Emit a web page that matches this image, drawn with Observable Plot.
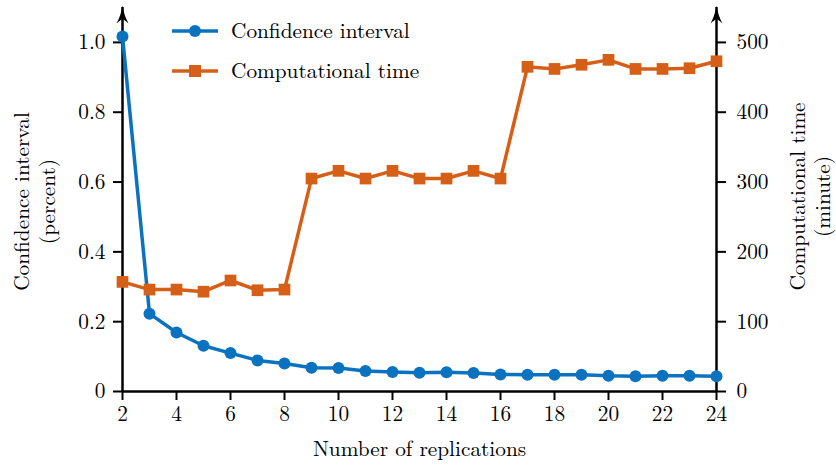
<!DOCTYPE html>
<html>
<head>
<meta charset="utf-8">
<script src="https://cdn.jsdelivr.net/npm/d3@7"></script>
<script src="https://cdn.jsdelivr.net/npm/@observablehq/plot@0.6"></script>
<style>
  html, body { margin: 0; padding: 0; background: #fff; }
  #chart { width: 836px; height: 466px; }
</style>
</head>
<body>
<div id="chart"></div>
<script>
// Data
const replications = [2,3,4,5,6,7,8,9,10,11,12,13,14,15,16,17,18,19,20,21,22,23,24];
const confidenceInterval = [1.017,0.223,0.169,0.131,0.110,0.089,0.080,0.068,0.067,0.059,0.056,0.054,0.055,0.053,0.049,0.048,0.048,0.048,0.045,0.044,0.045,0.045,0.044];
const computationalTime = [157,146,146,143,159,145,146,305,316,305,316,305,305,316,305,465,462,468,475,462,462,463,473];
const xTicks = [2,4,6,8,10,12,14,16,18,20,22,24];
const leftTicks = [0,0.2,0.4,0.6,0.8,1.0];
const rightTicks = [0,100,200,300,400,500];
const rightMax = 500; // right axis 0..500 shares the left axis 0..1 span

const blue = "#0b72c0";
const orange = "#d65f17";
const font = "\"Latin Modern Roman\", \"Liberation Serif\", serif";
const fontSize = 21.3;

const ciData = replications.map((r, i) => ({r, v: confidenceInterval[i]}));
const timeData = replications.map((r, i) => ({r, v: computationalTime[i] / rightMax}));

const arrowHead = {
  draw(ctx) {
    ctx.moveTo(0, -10);
    ctx.quadraticCurveTo(1.5, 0, 6, 8);
    ctx.quadraticCurveTo(1, 3.5, 0, 3.5);
    ctx.quadraticCurveTo(-1, 3.5, -6, 8);
    ctx.quadraticCurveTo(-1.5, 0, 0, -10);
    ctx.closePath();
  }
};

const chart = Plot.plot({
  width: 836,
  height: 466,
  marginLeft: 122,
  marginRight: 120,
  marginTop: 7,
  marginBottom: 75,
  style: {fontFamily: font, fontSize: fontSize + "px", color: "#000", background: "#fff", overflow: "visible"},
  x: {domain: [2, 24]},
  y: {domain: [0, 1.1]},
  marks: [
    Plot.axisX({ticks: xTicks, tickSize: 9, tickPadding: 5, strokeWidth: 2, label: null, tickFormat: d => String(d)}),
    Plot.axisY({ticks: leftTicks, tickSize: 9, tickPadding: 8, strokeWidth: 2, label: null, anchor: "left",
      tickFormat: d => d === 0 ? "0" : d.toFixed(1)}),
    Plot.axisY({ticks: rightTicks.map(t => t / rightMax), tickSize: 9, tickPadding: 11, strokeWidth: 2, label: null, anchor: "right",
      tickFormat: d => String(Math.round(d * rightMax))}),
    Plot.ruleY([0], {strokeWidth: 2.5}),
    Plot.ruleX([2], {y1: 0, y2: 1.1, strokeWidth: 2.5}),
    Plot.ruleX([24], {y1: 0, y2: 1.1, strokeWidth: 2.5}),
    Plot.dot([null], {frameAnchor: "top-left", dy: 8, symbol: arrowHead, fill: "#000", stroke: "none"}),
    Plot.dot([null], {frameAnchor: "top-right", dy: 8, symbol: arrowHead, fill: "#000", stroke: "none"}),
    Plot.line(ciData, {x: "r", y: "v", stroke: blue, strokeWidth: 3.5}),
    Plot.dot(ciData, {x: "r", y: "v", r: 6, fill: blue, stroke: "none", symbol: "circle"}),
    Plot.line(timeData, {x: "r", y: "v", stroke: orange, strokeWidth: 3.5}),
    Plot.dot(timeData, {x: "r", y: "v", r: 6.6, fill: orange, stroke: "none", symbol: "square"}),
    Plot.text(["Number of replications"], {frameAnchor: "bottom", dy: 58, text: d => d, lineAnchor: "middle", fill: "#000"}),
    Plot.text(["Confidence interval\n(percent)"], {frameAnchor: "left", dx: -89, dy: 2, rotate: -90, text: d => d, lineAnchor: "middle", textAnchor: "middle", lineHeight: 1.24, fill: "#000"}),
    Plot.text(["Computational time\n(minute)"], {frameAnchor: "right", dx: 93, dy: -3, rotate: -90, text: d => d, lineAnchor: "middle", textAnchor: "middle", lineHeight: 1.15, fill: "#000"})
  ]
});

// Legend (pixel-placed inside plot area, like the reference)
const svg = d3.select(chart);
const legendItems = [
  {label: "Confidence interval", color: blue, shape: "circle", y: 31},
  {label: "Computational time", color: orange, shape: "square", y: 71}
];
const lg = svg.append("g").attr("text-anchor", "start");
legendItems.forEach(it => {
  lg.append("line").attr("x1", 172).attr("x2", 218).attr("y1", it.y).attr("y2", it.y)
    .attr("stroke", it.color).attr("stroke-width", 3.5);
  if (it.shape === "circle") {
    lg.append("circle").attr("cx", 195).attr("cy", it.y).attr("r", 6).attr("fill", it.color);
  } else {
    lg.append("rect").attr("x", 195 - 6).attr("y", it.y - 6).attr("width", 12).attr("height", 12).attr("fill", it.color);
  }
  lg.append("text").attr("x", 231).attr("y", it.y).attr("dy", "0.32em").attr("fill", "#000")
    .attr("text-anchor", "start").text(it.label);
});

// enforce the serif face on every text node
svg.selectAll("text").style("font-family", font).style("font-size", fontSize + "px");

document.getElementById("chart").appendChild(chart);
</script>
</body>
</html>
